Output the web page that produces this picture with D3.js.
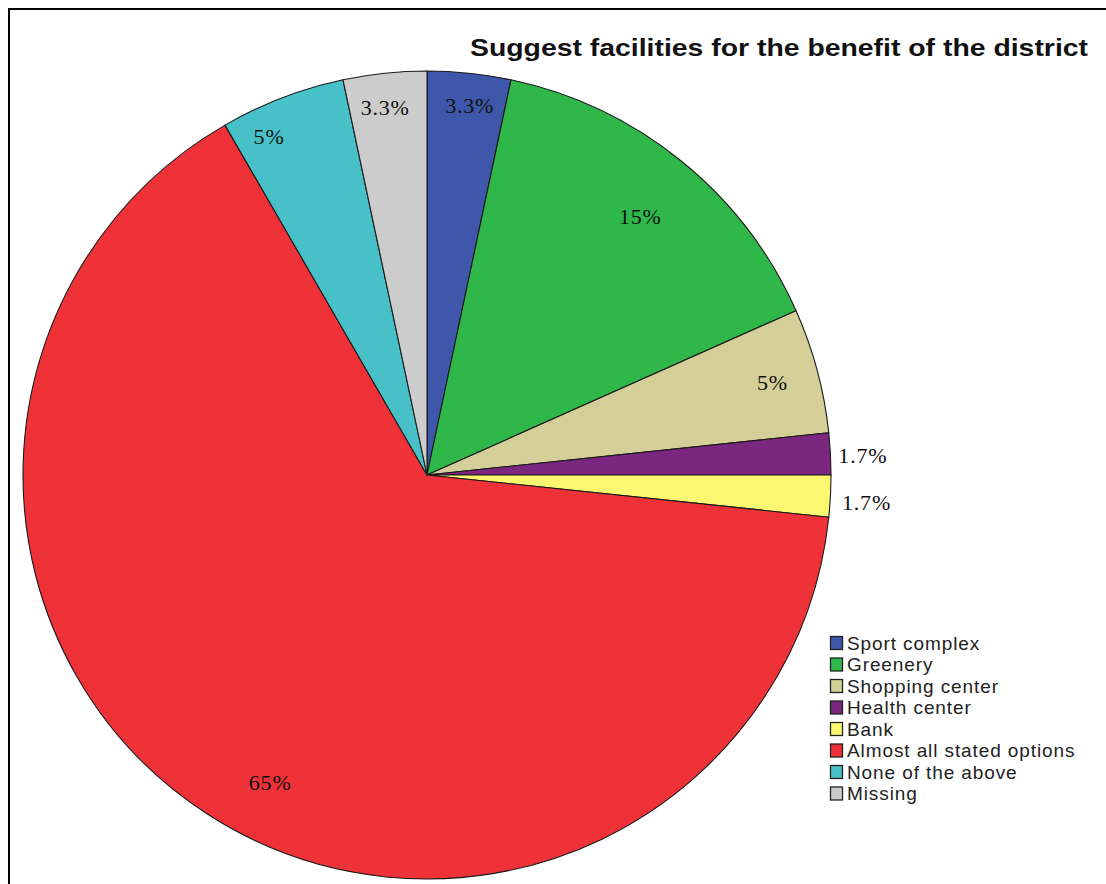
<!DOCTYPE html>
<html>
<head>
<meta charset="utf-8">
<script src="https://cdn.jsdelivr.net/npm/d3@7"></script>
<style>
  html, body { margin: 0; padding: 0; background: #fff; }
  svg { display: block; }
</style>
</head>
<body>
<svg id="chart" width="1106" height="884"></svg>
<script>
// Responses per suggested facility (n = 60)
const categories = ["Sport complex", "Greenery", "Shopping center", "Health center",
                    "Bank", "Almost all stated options", "None of the above", "Missing"];
const counts = [2, 9, 3, 1, 1, 39, 3, 2];
const percentLabels = ["3.3%", "15%", "5%", "1.7%", "1.7%", "65%", "5%", "3.3%"];
const colors = ["#3e57aa", "#2fb749", "#d4cf98", "#7b267f", "#fbf771", "#ee3238", "#47c1c7", "#cdcccc"];
const title = "Suggest facilities for the benefit of the district";

const W = 1106, H = 884;
const cx = 427, cy = 475, R = 404;

// Radial placement of each percent label (fraction of radius, angle nudge in degrees)
const labelLayout = {
  "Sport complex": [0.92, 0.6],
  "Greenery": [0.83, 0.5],
  "Shopping center": [0.885, 0],
  "Health center": [1.08, 0.4],
  "Bank": [1.09, 0.6],
  "Almost all stated options": [0.855, -6],
  "None of the above": [0.925, -4],
  "Missing": [0.915, -0.5]
};

const svg = d3.select("#chart");

// frame lines along the top and left
svg.append("line").attr("x1", 8).attr("x2", W).attr("y1", 9).attr("y2", 9)
  .attr("stroke", "#000").attr("stroke-width", 2);
svg.append("line").attr("x1", 9).attr("x2", 9).attr("y1", 8).attr("y2", H)
  .attr("stroke", "#000").attr("stroke-width", 2);

svg.append("text")
  .attr("x", 470).attr("y", 56)
  .attr("textLength", 618)
  .attr("lengthAdjust", "spacingAndGlyphs")
  .attr("font-family", "'Liberation Sans', Arial, sans-serif")
  .attr("font-weight", "bold")
  .attr("font-size", 24)
  .attr("fill", "#111")
  .text(title);

const data = categories.map((c, i) => ({ cat: c, value: counts[i], label: percentLabels[i], color: colors[i] }));

const pie = d3.pie().value(d => d.value).sort(null).startAngle(0).endAngle(2 * Math.PI);
const arc = d3.arc().innerRadius(0).outerRadius(R);
const arcs = pie(data);

const g = svg.append("g").attr("transform", `translate(${cx},${cy})`);

g.selectAll("path.slice").data(arcs).join("path")
  .attr("class", "slice")
  .attr("d", arc)
  .attr("fill", d => d.data.color)
  .attr("stroke", "#1a1a1a")
  .attr("stroke-width", 1.1)
  .attr("stroke-linejoin", "round");

g.selectAll("text.pct").data(arcs).join("text")
  .attr("class", "pct")
  .attr("transform", d => {
    const [f, nudge] = labelLayout[d.data.cat];
    const a = (d.startAngle + d.endAngle) / 2 + nudge * Math.PI / 180;
    const r = R * f;
    return `translate(${r * Math.sin(a)},${-r * Math.cos(a)})`;
  })
  .attr("text-anchor", "middle")
  .attr("dy", "0.35em")
  .attr("font-family", "'Liberation Serif', 'Times New Roman', serif")
  .attr("font-size", 22)
  .attr("letter-spacing", 0.8)
  .attr("fill", "#111")
  .text(d => d.data.label);

// legend
const legend = svg.append("g").attr("transform", "translate(830,643)");
const rowH = 21.5;
const rows = legend.selectAll("g").data(data).join("g")
  .attr("transform", (d, i) => `translate(0,${i * rowH})`);
rows.append("rect")
  .attr("x", 0.5).attr("y", -6.5).attr("width", 12).attr("height", 13)
  .attr("fill", d => d.color)
  .attr("stroke", "#222").attr("stroke-width", 1.3);
rows.append("text")
  .attr("x", 17).attr("dy", "0.36em")
  .attr("font-family", "'Liberation Sans', Arial, sans-serif")
  .attr("font-size", 19)
  .attr("letter-spacing", 0.9)
  .attr("fill", "#222")
  .text(d => d.cat);
</script>
</body>
</html>
